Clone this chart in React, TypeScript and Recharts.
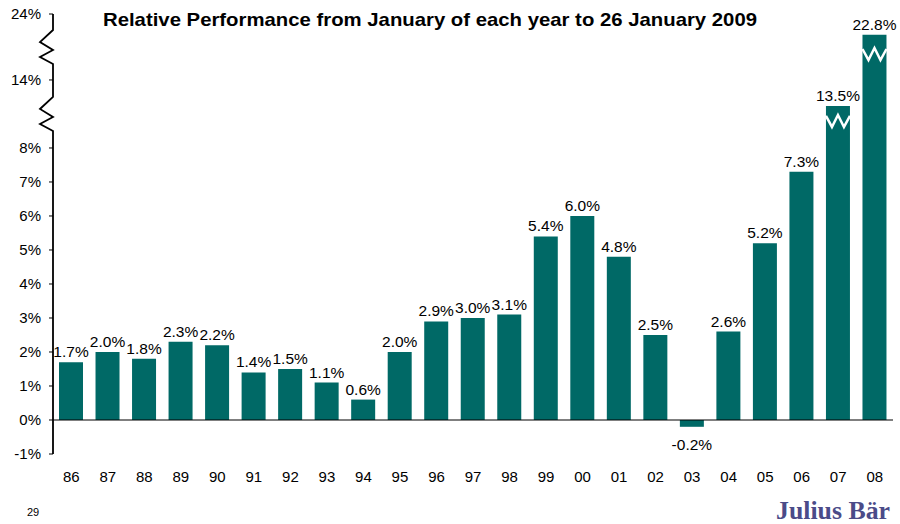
import { Bar, BarChart, LabelList, ReferenceLine, Rectangle, XAxis, YAxis } from 'recharts';

const YEARS = ['86', '87', '88', '89', '90', '91', '92', '93', '94', '95', '96', '97', '98', '99', '00', '01', '02', '03', '04', '05', '06', '07', '08'];
const PERFORMANCE = [1.7, 2.0, 1.8, 2.3, 2.2, 1.4, 1.5, 1.1, 0.6, 2.0, 2.9, 3.0, 3.1, 5.4, 6.0, 4.8, 2.5, -0.2, 2.6, 5.2, 7.3, 13.5, 22.8];
const TICK_VALUES = [-1, 0, 1, 2, 3, 4, 5, 6, 7, 8, 14, 24];

const WIDTH = 900;
const HEIGHT = 524;
const PLOT_TOP = 14;
const PLOT_LEFT = 53;
const PLOT_BOTTOM = 454;
const BAR_COLOR = '#006966';
const FONT = 'Arial, "Liberation Sans", sans-serif';

// broken axis: linear up to 8%, then squeezed
function tickPos(v: number) {
  if (v <= 8) return v;
  if (v <= 14) return 8 + (v - 8) / 3;
  return 10 + (v - 14) * 0.194;
}

function barPos(v: number) {
  return v <= 8 ? v : 8 + (v - 8) * 0.225;
}

const DOMAIN_MAX = tickPos(24);
const UNIT_PX = (PLOT_BOTTOM - PLOT_TOP) / (DOMAIN_MAX + 1);
const py = (u: number) => PLOT_TOP + (DOMAIN_MAX - u) * UNIT_PX;

const data = YEARS.map((year, i) => ({
  year,
  value: PERFORMANCE[i],
  plot: barPos(PERFORMANCE[i]),
}));

const tickLabel: Record<string, string> = {};
TICK_VALUES.forEach((v) => {
  tickLabel[tickPos(v).toFixed(3)] = `${v}%`;
});

const lowerBreak = (py(8) + py(10)) / 2;
const upperBreak = (py(10) + py(DOMAIN_MAX)) / 2;

function zigzag(cy: number) {
  const x = PLOT_LEFT;
  const top = cy - 17;
  return `L${x},${top} L${x - 13},${top + 12} L${x},${top + 20} L${x - 13},${top + 27} L${x},${top + 34}`;
}

function BarShape(props: any) {
  const { x, y, width, height, payload } = props;
  const v = payload.value;
  let w = null;
  if (v > 8) {
    const c = (v > 14 ? upperBreak : lowerBreak) + 7;
    w = (
      <polyline
        points={`${x},${c - 5} ${x + width / 4},${c + 6} ${x + width / 2},${c - 6} ${x + (3 * width) / 4},${c + 6} ${x + width},${c - 5}`}
        fill="none"
        stroke="#fff"
        strokeWidth={2.5}
      />
    );
  }
  return (
    <g>
      <Rectangle x={x} y={y} width={width} height={height} fill={BAR_COLOR} />
      {w}
    </g>
  );
}

function ValueLabel(props: any) {
  const { x, y, width, height, value } = props;
  const top = Math.min(y, y + height);
  const bottom = Math.max(y, y + height);
  const ty = value < 0 ? bottom + 23 : top - 5;
  return (
    <text x={x + width / 2} y={ty} textAnchor="middle" fontSize={15.5} fontFamily={FONT} fill="#000">
      {`${value.toFixed(1)}%`}
    </text>
  );
}

export default function App() {
  return (
    <div style={{ position: 'absolute', left: 0, top: 0, width: WIDTH, height: HEIGHT, background: '#fff', fontFamily: FONT }}>
      <BarChart
        width={WIDTH}
        height={HEIGHT}
        data={data}
        margin={{ top: PLOT_TOP, right: WIDTH - 893, bottom: 40, left: 0 }}
        barSize={24}
      >
        <XAxis
          dataKey="year"
          axisLine={false}
          tickLine={false}
          height={30}
          tickMargin={11}
          interval={0}
          tick={{ fill: '#000', fontSize: 15, fontFamily: FONT }}
        />
        <YAxis
          type="number"
          domain={[-1, DOMAIN_MAX]}
          ticks={TICK_VALUES.map(tickPos)}
          tickFormatter={(u: number) => tickLabel[u.toFixed(3)] ?? ''}
          interval={0}
          width={PLOT_LEFT}
          axisLine={false}
          tickSize={4}
          tickMargin={8}
          tickLine={{ stroke: '#000' }}
          tick={{ fill: '#000', fontSize: 15, fontFamily: FONT }}
        />
        <ReferenceLine y={0} stroke="#000" strokeWidth={1.2} />
        <Bar dataKey="plot" shape={<BarShape />} isAnimationActive={false}>
          <LabelList dataKey="value" content={<ValueLabel />} />
        </Bar>
      </BarChart>
      <svg width={WIDTH} height={HEIGHT} style={{ position: 'absolute', left: 0, top: 0, pointerEvents: 'none' }}>
        <path
          d={`M${PLOT_LEFT},${PLOT_TOP} ${zigzag(upperBreak)} ${zigzag(lowerBreak)} L${PLOT_LEFT},${PLOT_BOTTOM}`}
          fill="none"
          stroke="#000"
          strokeWidth={1.8}
          strokeLinejoin="miter"
        />
        <text
          x={103}
          y={26}
          textLength={654}
          lengthAdjust="spacingAndGlyphs"
          fontSize={19}
          fontWeight="bold"
          fontFamily={FONT}
          fill="#000"
        >
          Relative Performance from January of each year to 26 January 2009
        </text>
        <text x={33} y={516} textAnchor="middle" fontSize={11} fontFamily={FONT} fill="#000">
          29
        </text>
        <text
          x={776}
          y={519}
          textLength={114}
          lengthAdjust="spacingAndGlyphs"
          fontSize={26}
          fontWeight="bold"
          fontFamily='"Liberation Serif", "DejaVu Serif", serif'
          fill="#4b4b88"
        >
          Julius Bär
        </text>
      </svg>
    </div>
  );
}
